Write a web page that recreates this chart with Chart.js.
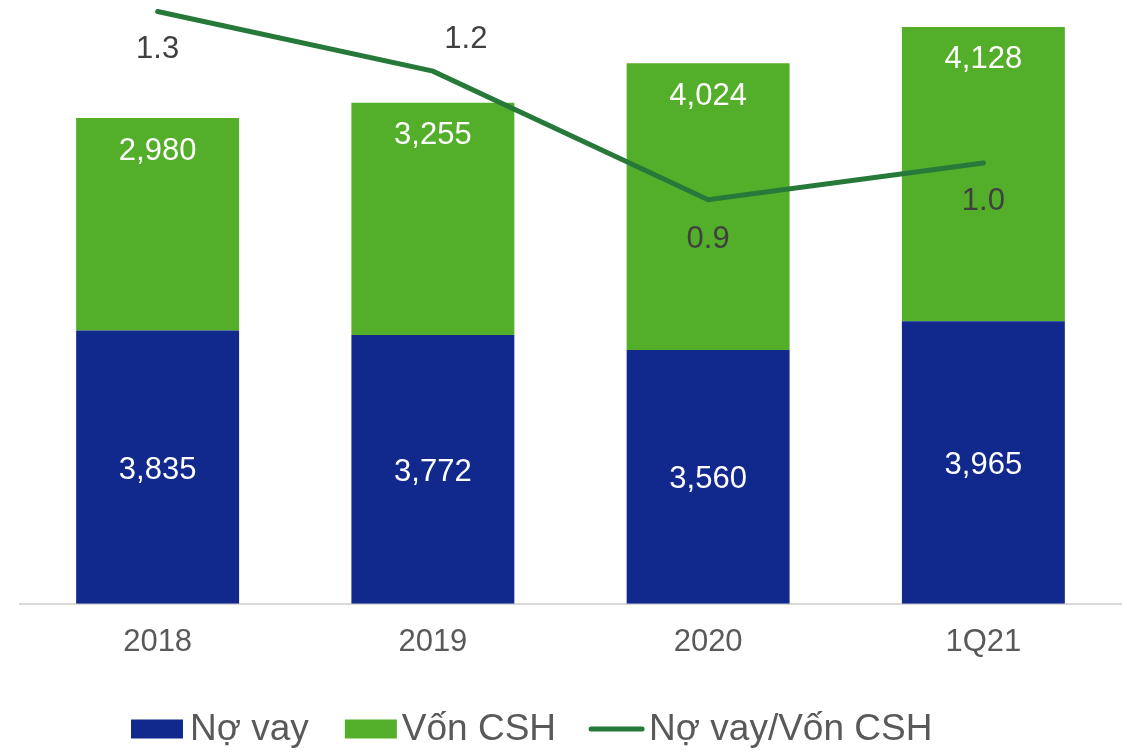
<!DOCTYPE html>
<html>
<head>
<meta charset="utf-8">
<script src="https://cdn.jsdelivr.net/npm/chart.js@4.4.0/dist/chart.umd.min.js"></script>
<style>
html, body { margin: 0; padding: 0; background: #fff; }
#wrap { width: 1127px; height: 753px; }
</style>
</head>
<body>
<div id="wrap"><canvas id="myChart"></canvas></div>
<script>
const categories = ['2018', '2019', '2020', '1Q21'];
const noVay = [3835, 3772, 3560, 3965];
const vonCSH = [2980, 3255, 4024, 4128];
const noVayTrenVon = [1.29, 1.16, 0.88, 0.96];

const FONT = '"Liberation Sans", Arial, sans-serif';
const BLUE = '#11298C';
const GREEN = '#53AE29';
const DARK_GREEN = '#27793A';

// lech cua nhan ty le so voi diem tren duong (px)
const lineLabelOffsets = [[0, 38], [33, -32], [0, 40], [0, 38]];

const labelPlugin = {
    id: 'dataLabels',
    afterDatasetsDraw(chart) {
        const ctx = chart.ctx;
        ctx.save();
        ctx.font = '31px ' + FONT;
        ctx.textAlign = 'center';
        ctx.textBaseline = 'middle';
        ctx.fillStyle = '#ffffff';
        chart.getDatasetMeta(0).data.forEach((bar, i) => {
            ctx.fillText(noVay[i].toLocaleString('en-US'), bar.x, (bar.y + bar.base) / 2 + 3);
        });
        chart.getDatasetMeta(1).data.forEach((bar, i) => {
            ctx.fillText(vonCSH[i].toLocaleString('en-US'), bar.x, bar.y + 33);
        });
        ctx.fillStyle = '#404040';
        chart.getDatasetMeta(2).data.forEach((pt, i) => {
            const off = lineLabelOffsets[i];
            ctx.fillText(noVayTrenVon[i].toFixed(1), pt.x + off[0], pt.y + off[1]);
        });
        ctx.restore();
    }
};

const legendPlugin = {
    id: 'customLegend',
    afterDraw(chart) {
        const ctx = chart.ctx;
        const y = 729;
        let x = 131;
        ctx.save();
        ctx.font = '37px ' + FONT;
        ctx.textBaseline = 'middle';
        ctx.textAlign = 'left';
        ctx.fillStyle = BLUE;
        ctx.fillRect(x, y - 9.5, 52, 19);
        x += 59;
        ctx.fillStyle = '#595959';
        ctx.fillText('Nợ vay', x, y + 1);
        x += ctx.measureText('Nợ vay').width + 36;
        ctx.fillStyle = GREEN;
        ctx.fillRect(x, y - 9.5, 52, 19);
        x += 57;
        ctx.fillStyle = '#595959';
        ctx.fillText('Vốn CSH', x, y + 1);
        x += ctx.measureText('Vốn CSH').width + 33;
        ctx.strokeStyle = DARK_GREEN;
        ctx.lineWidth = 5;
        ctx.lineCap = 'round';
        ctx.beginPath();
        ctx.moveTo(x + 2, y);
        ctx.lineTo(x + 53, y);
        ctx.stroke();
        x += 60;
        ctx.fillText('Nợ vay/Vốn CSH', x, y + 1);
        ctx.restore();
    }
};

const ctxx = document.getElementById('myChart').getContext('2d');
const myChart = new Chart(ctxx, {
    data: {
        labels: categories,
        datasets: [
            {
                type: 'bar',
                label: 'Nợ vay',
                data: noVay,
                backgroundColor: BLUE,
                yAxisID: 'y',
                order: 2
            },
            {
                type: 'bar',
                label: 'Vốn CSH',
                data: vonCSH,
                backgroundColor: GREEN,
                yAxisID: 'y',
                order: 2
            },
            {
                type: 'line',
                label: 'Nợ vay/Vốn CSH',
                data: noVayTrenVon,
                borderColor: DARK_GREEN,
                borderWidth: 5,
                borderCapStyle: 'round',
                borderJoinStyle: 'miter',
                pointRadius: 0,
                tension: 0,
                fill: false,
                yAxisID: 'y1',
                order: 1
            }
        ]
    },
    options: {
        responsive: true,
        maintainAspectRatio: false,
        animation: false,
        datasets: {
            bar: { barPercentage: 0.592, categoryPercentage: 1 }
        },
        layout: { padding: { left: 20, right: 6, top: 0, bottom: 72 } },
        plugins: {
            legend: { display: false },
            tooltip: { enabled: false }
        },
        scales: {
            x: {
                stacked: true,
                grid: { display: false, drawTicks: false },
                border: { display: true, color: '#D9D9D9', width: 2 },
                ticks: {
                    color: '#595959',
                    padding: 20,
                    font: { family: FONT, size: 31 }
                }
            },
            y: {
                stacked: true,
                display: false,
                min: 0,
                max: 8470
            },
            y1: {
                display: false,
                min: 0,
                max: 1.315
            }
        }
    },
    plugins: [labelPlugin, legendPlugin]
});
</script>
</body>
</html>
